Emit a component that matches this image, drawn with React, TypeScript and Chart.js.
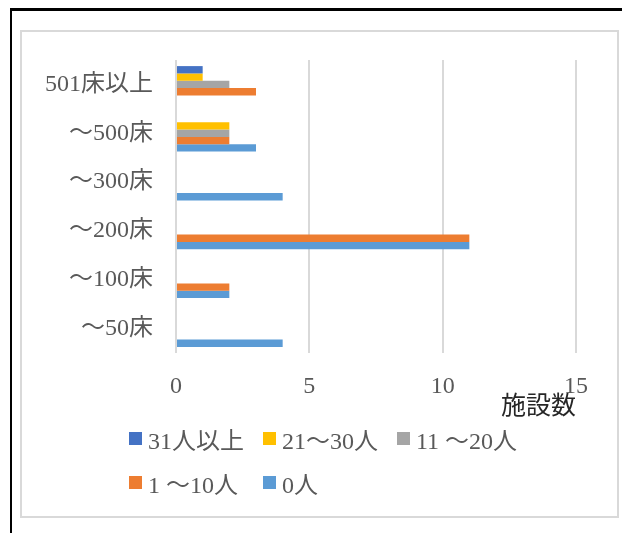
import React, { useEffect, useRef } from "react";
import { Chart, registerables } from "chart.js";

Chart.register(...registerables);

const categories = ["501床以上", "～500床", "～300床", "～200床", "～100床", "～50床"];
const seriesNames = ["31人以上", "21～30人", "11 ～20人", "1 ～10人", "0人"];
const seriesColors = ["#4472C4", "#FFC000", "#A5A5A5", "#ED7D31", "#5B9BD5"];
const s31plus = [1, 0, 0, 0, 0, 0];
const s21to30 = [1, 2, 0, 0, 0, 0];
const s11to20 = [2, 2, 0, 0, 0, 0];
const s1to10 = [3, 2, 0, 11, 2, 0];
const s0 = [0, 3, 4, 11, 2, 4];
const seriesValues = [s31plus, s21to30, s11to20, s1to10, s0];
const xTicks = [0, 5, 10, 15];
const axisTitle = "施設数";

const FONT = "'Liberation Serif', 'Noto Sans CJK JP', serif";
const LABEL_COLOR = "#595959";

export default function App() {
  const canvasRef = useRef<HTMLCanvasElement | null>(null);

  useEffect(() => {
    if (!canvasRef.current) return;
    const chart = new Chart(canvasRef.current, {
      type: "bar",
      data: {
        labels: categories,
        datasets: seriesNames.map((name, i) => ({
          label: name,
          data: seriesValues[i],
          backgroundColor: seriesColors[i],
          borderWidth: 0,
          categoryPercentage: 0.75,
          barPercentage: 1,
        })),
      },
      options: {
        indexAxis: "y",
        animation: false,
        responsive: false,
        maintainAspectRatio: false,
        layout: { padding: { left: 0, right: 41, top: 28, bottom: 0 } },
        plugins: {
          legend: { display: false },
          tooltip: { enabled: false },
        },
        scales: {
          x: {
            min: 0,
            max: 15,
            afterBuildTicks: (scale: any) => {
              scale.ticks = xTicks.map((v) => ({ value: v }));
            },
            afterFit: (scale: any) => {
              scale.height = 71;
            },
            grid: { color: "#d9d9d9", lineWidth: 2, drawTicks: false },
            border: { display: false },
            ticks: {
              padding: 19,
              color: LABEL_COLOR,
              font: { family: FONT, size: 24 },
            },
            title: {
              display: true,
              text: axisTitle,
              align: "end",
              color: "#262626",
              padding: { top: 0, bottom: 2 },
              font: { family: FONT, size: 25 },
            },
          },
          y: {
            afterFit: (scale: any) => {
              scale.width = 154;
              scale.paddingTop = 0;
              scale.paddingBottom = 0;
            },
            grid: { display: false, drawTicks: false },
            border: { display: false },
            ticks: {
              padding: 23,
              color: LABEL_COLOR,
              font: { family: FONT, size: 24 },
            },
          },
        },
      },
    });
    return () => chart.destroy();
  }, []);

  return (
    <div style={{ position: "absolute", left: 0, top: 0, width: 622, height: 533, overflow: "hidden", background: "#fff" }}>
      <div
        style={{
          position: "absolute",
          left: 10,
          top: 8,
          width: 620,
          height: 540,
          borderTop: "3px solid #000",
          borderLeft: "2px solid #000",
          boxSizing: "border-box",
        }}
      />
      <div
        style={{
          position: "absolute",
          left: 20,
          top: 30,
          width: 599,
          height: 488,
          border: "2px solid #d9d9d9",
          boxSizing: "border-box",
        }}
      />
      <canvas
        ref={canvasRef}
        width={595}
        height={392}
        style={{ position: "absolute", left: 22, top: 32, width: 595, height: 392 }}
      />
      <div
        style={{
          position: "absolute",
          left: 129,
          top: 424,
          display: "grid",
          gridTemplateColumns: "134px 134px 134px",
          gridAutoRows: "44px",
          fontFamily: FONT,
          fontSize: 24,
          color: LABEL_COLOR,
        }}
      >
        {seriesNames.map((name, i) => (
          <div key={name} style={{ display: "flex", alignItems: "center", height: 29, whiteSpace: "nowrap" }}>
            <span
              style={{
                display: "inline-block",
                width: 13,
                height: 13,
                background: seriesColors[i],
                marginRight: 6,
                flex: "0 0 auto",
              }}
            />
            <span>{name}</span>
          </div>
        ))}
      </div>
    </div>
  );
}
